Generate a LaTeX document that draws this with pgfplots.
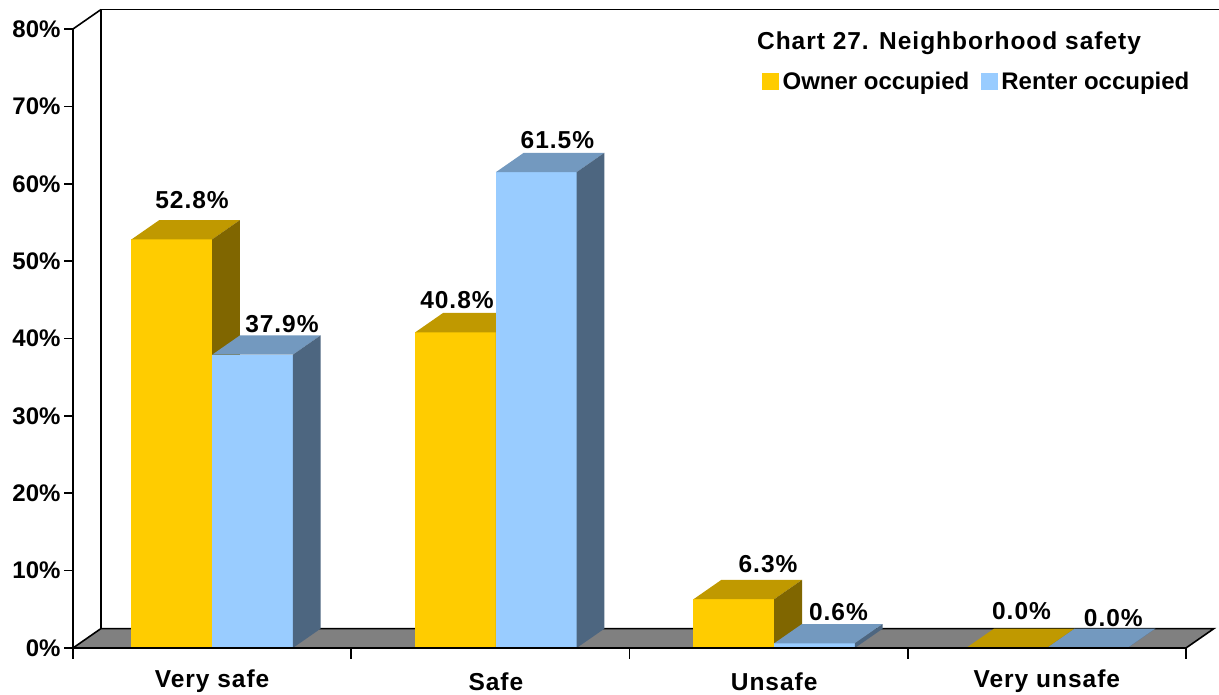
\documentclass[border=0pt]{standalone}
\usepackage{fontspec}
\setmainfont{Liberation Sans}
\usepackage{pgfplots}
\pgfplotsset{compat=1.18}
\definecolor{own}{HTML}{FFCC00}
\definecolor{ownT}{HTML}{C09900}
\definecolor{ownS}{HTML}{806600}
\definecolor{rent}{HTML}{99CCFF}
\definecolor{rentT}{HTML}{7399BF}
\definecolor{rentS}{HTML}{4D6680}
\definecolor{floorc}{HTML}{808080}
\newcommand{\bart}[5]{%
  \pgfmathsetmacro\xa{#1}%
  \pgfmathsetmacro\xb{#1+0.29}%
  \pgfmathsetmacro\xc{#1+0.1}%
  \pgfmathsetmacro\xd{#1+0.39}%
  \pgfmathsetmacro\ya{#2}%
  \pgfmathsetmacro\yb{#2+2.5}%
  \addplot[fill=#3,draw=none,forget plot] coordinates {(\xa,0) (\xb,0) (\xb,\ya) (\xa,\ya)} --cycle;
  \addplot[fill=#4,draw=none,forget plot] coordinates {(\xa,\ya) (\xb,\ya) (\xd,\yb) (\xc,\yb)} --cycle;
  \addplot[fill=#5,draw=none,forget plot] coordinates {(\xb,0) (\xd,2.5) (\xd,\yb) (\xb,\ya)} --cycle;
}
\newcommand{\bigf}{\fontsize{24}{28}\selectfont\bfseries}
\newcommand{\spf}{\fontsize{24.5}{28}\selectfont\bfseries\addfontfeature{LetterSpace=4}}
\begin{document}
\begin{tikzpicture}
\useasboundingbox (0,0) rectangle (1219pt,695pt);
\begin{axis}[
  at={(73pt,47pt)}, anchor=south west,
  scale only axis, width=1113pt, height=619pt,
  xmin=-0.5, xmax=3.5, ymin=0, ymax=80,
  enlargelimits=false, clip=false, axis on top,
  axis x line*=bottom, axis y line*=left,
  axis line style={-, line width=1.6pt, black},
  tick align=outside,
  major tick length=9pt, minor tick length=11pt,
  every tick/.style={black, line width=1.6pt},
  xtick={0,1.02,2.02,3.0},
  xticklabels={Very safe,Safe,Unsafe,Very unsafe},
  major x tick style={draw=none},
  minor xtick={-0.5,0.5,1.5,2.5,3.5},
  ytick={0,10,...,80},
  yticklabel={\pgfmathprintnumber{\tick}\%},
  /pgf/number format/assume math mode=true,
  tick label style={font=\bigf},
  xticklabel style={anchor=center, yshift=-24.5pt, font=\spf},
  yticklabel style={anchor=east, xshift=0pt},
  legend columns=2,
  legend style={at={(0.619,0.9144)}, anchor=west, draw=none, fill=none,
    inner sep=0pt, font=\bigf,
    /tikz/every even column/.append style={column sep=8pt},
    nodes={inner sep=3.5pt}},
  legend image code/.code={\fill[#1] (0pt,-8.5pt) rectangle (17pt,8.5pt);},
]
\addlegendimage{fill=own, draw=none}
\addlegendentry{Owner occupied}
\addlegendimage{fill=rent, draw=none}
\addlegendentry{Renter occupied}
% floor
\addplot[fill=floorc, draw=black, line width=1.6pt, forget plot] coordinates {(-0.5,0) (3.5,0) (3.6,2.5) (-0.4,2.5)} --cycle;
% back wall
\addplot[draw=black, line width=1.6pt, forget plot] coordinates {(-0.4,2.5) (-0.4,82.5) (3.7,82.5)};
\addplot[draw=black, line width=1.6pt, forget plot] coordinates {(-0.5,80) (-0.4,82.5)};
% bars
\bart{-0.29}{52.8}{own}{ownT}{ownS}
\bart{0}{37.9}{rent}{rentT}{rentS}
\bart{0.73}{40.8}{own}{ownT}{ownS}
\bart{1.02}{61.5}{rent}{rentT}{rentS}
\bart{1.73}{6.3}{own}{ownT}{ownS}
\bart{2.02}{0.6}{rent}{rentT}{rentS}
\bart{2.71}{0.0}{own}{ownT}{ownS}
\bart{3.0}{0.0}{rent}{rentT}{rentS}
% data labels
\addplot[draw=none, mark=none, forget plot, point meta=explicit symbolic,
  nodes near coords={\pgfplotspointmeta\%},
  nodes near coords style={anchor=center, font=\spf, text=black}]
  table[meta=lab] {
x y lab
-0.072 57.84 52.8
0.251 41.87 37.9
0.880 44.98 40.8
1.241 65.65 61.5
1.998 10.79 6.3
2.251 4.59 0.6
2.909 4.72 0.0
3.239 3.81 0.0
};
\node[anchor=west, font=\spf, inner sep=0pt] at (axis cs:1.958,78.2) {Chart 27. Neighborhood safety};
\end{axis}
\end{tikzpicture}
\end{document}
